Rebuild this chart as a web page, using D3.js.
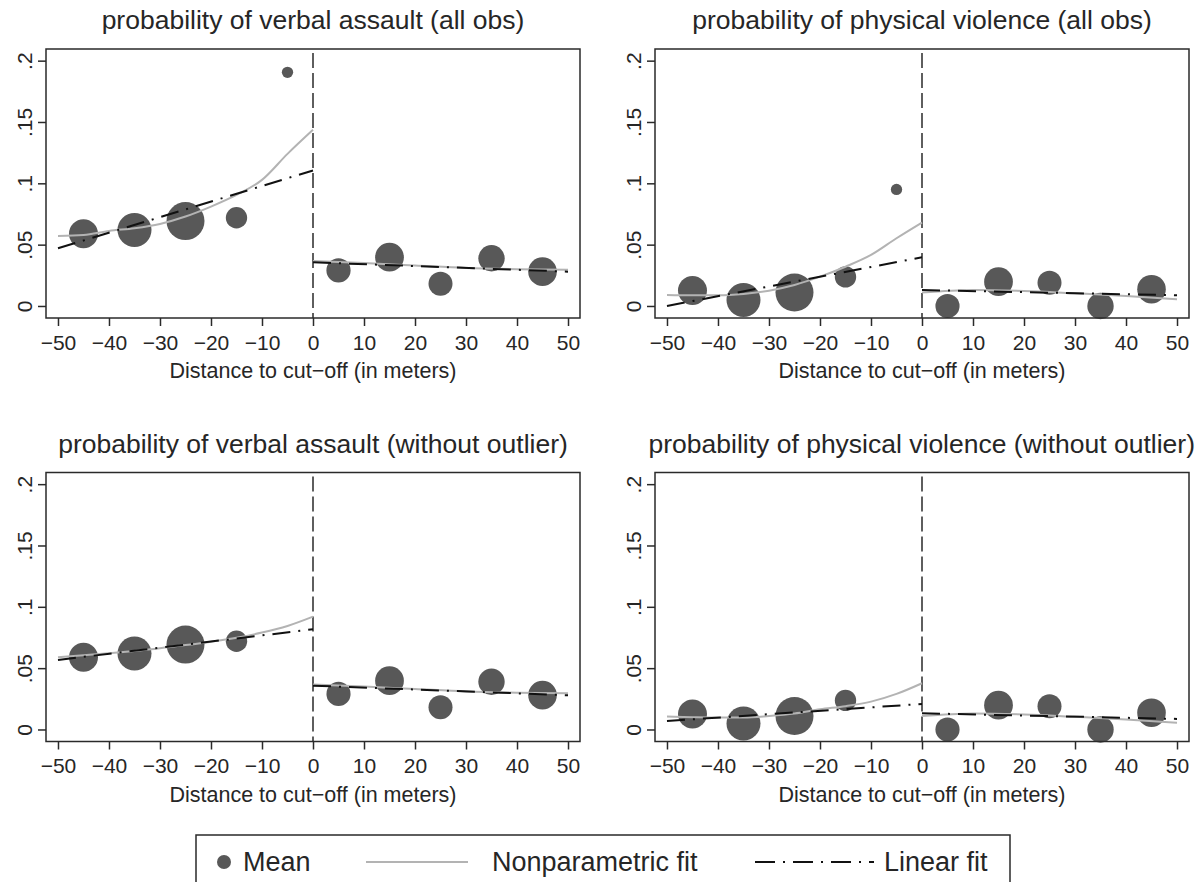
<!DOCTYPE html>
<html>
<head>
<meta charset="utf-8">
<script src="https://cdn.jsdelivr.net/npm/d3@7"></script>
<style>
  body { margin: 0; background: #fff; }
  svg text { font-family: "Liberation Sans", Arial, Helvetica, sans-serif; fill: #262626; }
</style>
</head>
<body>
<svg id="chart" width="1197" height="882"></svg>
<script>
// bins (distance to cut-off, meters) and observations per bin (drives marker size)
const binCenters = [-45, -35, -25, -15, -5, 5, 15, 25, 35, 45];
const binObs = [210, 289, 361, 114, 32, 146, 207, 144, 174, 204];
const outlierBin = -5;

const verbalMeans = [0.0589, 0.062, 0.0692, 0.0719, 0.1905, 0.029, 0.0398, 0.0181, 0.0389, 0.028];
const physicalMeans = [0.0126, 0.0049, 0.011, 0.0237, 0.095, 0.0, 0.0198, 0.019, 0.0, 0.0137];

// nonparametric fit
const npLeftX = [-50, -45, -40, -35, -30, -25, -20, -15, -10, -5, 0];
const npRightX = [0, 10, 20, 30, 40, 50];
const npVerbalAllLeft = [0.0571, 0.0579, 0.0612, 0.0634, 0.0669, 0.0729, 0.081, 0.0905, 0.1028, 0.124, 0.1436];
const npVerbalAllRight = [0.0367, 0.035, 0.033, 0.031, 0.030, 0.0295];
const npPhysicalAllLeft = [0.009, 0.0087, 0.0087, 0.0098, 0.0125, 0.0171, 0.0239, 0.032, 0.0416, 0.0552, 0.068];
const npPhysicalAllRight = [0.0109, 0.013, 0.0122, 0.0103, 0.0082, 0.0054];
const npVerbalNoOutLeft = [0.0589, 0.0605, 0.0621, 0.064, 0.0662, 0.0688, 0.0716, 0.0748, 0.079, 0.0844, 0.092];
const npVerbalNoOutRight = [0.0367, 0.035, 0.033, 0.031, 0.030, 0.0295];
const npPhysicalNoOutLeft = [0.0105, 0.01, 0.0097, 0.0097, 0.011, 0.013, 0.0164, 0.019, 0.0227, 0.029, 0.0377];
const npPhysicalNoOutRight = [0.0109, 0.013, 0.0122, 0.0103, 0.0082, 0.0054];

// linear fit values at the segment ends
const linLeftX = [-50, 0];
const linRightX = [0, 50];
const linVerbalAll = { left: [0.047, 0.1105], right: [0.0356, 0.028] };
const linPhysicalAll = { left: [0.0, 0.0397], right: [0.013, 0.0087] };
const linVerbalNoOut = { left: [0.0567, 0.0817], right: [0.0357, 0.0279] };
const linPhysicalNoOut = { left: [0.0069, 0.0208], right: [0.0132, 0.0086] };

const xTicks = [-50, -40, -30, -20, -10, 0, 10, 20, 30, 40, 50];
const yTicks = [0, 0.05, 0.1, 0.15, 0.2];

const titles = [
    'probability of verbal assault (all obs)',
    'probability of physical violence (all obs)',
    'probability of verbal assault (without outlier)',
    'probability of physical violence (without outlier)'
];
const xTitle = 'Distance to cut\u2212off (in meters)';
const legendLabels = ['Mean', 'Nonparametric fit', 'Linear fit'];

const panels = [
    { title: titles[0], means: verbalMeans, npL: npVerbalAllLeft, npR: npVerbalAllRight, lin: linVerbalAll, dropOutlier: false },
    { title: titles[1], means: physicalMeans, npL: npPhysicalAllLeft, npR: npPhysicalAllRight, lin: linPhysicalAll, dropOutlier: false },
    { title: titles[2], means: verbalMeans, npL: npVerbalNoOutLeft, npR: npVerbalNoOutRight, lin: linVerbalNoOut, dropOutlier: true },
    { title: titles[3], means: physicalMeans, npL: npPhysicalNoOutLeft, npR: npPhysicalNoOutRight, lin: linPhysicalNoOut, dropOutlier: true }
];

const svg = d3.select('#chart');
const pageW = 1197;

const plotW = 534;
const plotH = 269;
const origins = [[46, 49], [655, 49], [46, 472.5], [655, 472.5]];

const xScale = d3.scaleLinear().domain([-52.35, 52.35]).range([0, plotW]);
const yScale = d3.scaleLinear().domain([-0.0098, 0.2095]).range([plotH, 0]);
const rScale = d3.scaleSqrt().domain([0, d3.max(binObs)]).range([0, 19]);

const markerColor = '#585858';
const npColor = '#b3b3b3';
const linColor = '#111';
const linDash = '18,8,2,8';

const line = d3.line().x(d => xScale(d[0])).y(d => yScale(d[1]));
const smooth = d3.line().x(d => xScale(d[0])).y(d => yScale(d[1])).curve(d3.curveMonotoneX);

const fmtY = d => d === 0 ? '0' : d3.format('.2~f')(d).replace(/^0/, '');
const fmtX = d => d < 0 ? '\u2212' + Math.abs(d) : String(d);

panels.forEach((p, i) => {
    const [ox, oy] = origins[i];
    const g = svg.append('g').attr('transform', `translate(${ox},${oy})`);

    const title = g.append('text')
        .attr('x', plotW / 2)
        .attr('y', -20)
        .attr('text-anchor', 'middle')
        .style('font-size', '26.5px')
        .text(p.title);

    // keep the long title inside the page
    const tw = title.node().getComputedTextLength();
    const overflow = ox + plotW / 2 + tw / 2 - (pageW - 2);
    if (overflow > 0) title.attr('x', plotW / 2 - overflow);

    // markers
    const pts = binCenters.map((x, k) => ({ x: x, y: p.means[k], n: binObs[k] }))
        .filter(d => !(p.dropOutlier && d.x === outlierBin));

    g.append('g')
        .selectAll('circle')
        .data(pts)
        .enter()
        .append('circle')
        .attr('cx', d => xScale(d.x))
        .attr('cy', d => yScale(d.y))
        .attr('r', d => rScale(d.n))
        .attr('fill', markerColor);

    // cut-off line
    g.append('line')
        .attr('x1', xScale(0)).attr('x2', xScale(0))
        .attr('y1', 4).attr('y2', plotH)
        .attr('stroke', '#2a2a2a')
        .attr('stroke-width', 1.5)
        .attr('stroke-dasharray', '15,5');

    // nonparametric fit
    [[npLeftX, p.npL], [npRightX, p.npR]].forEach(([xs, ys]) => {
        g.append('path')
            .datum(xs.map((x, k) => [x, ys[k]]))
            .attr('d', smooth)
            .attr('fill', 'none')
            .attr('stroke', npColor)
            .attr('stroke-width', 2);
    });

    // linear fit
    [[linLeftX, p.lin.left], [linRightX, p.lin.right]].forEach(([xs, ys]) => {
        g.append('path')
            .datum(xs.map((x, k) => [x, ys[k]]))
            .attr('d', line)
            .attr('fill', 'none')
            .attr('stroke', linColor)
            .attr('stroke-width', 2)
            .attr('stroke-dasharray', linDash);
    });

    // axes
    const xAxis = g.append('g')
        .attr('transform', `translate(0,${plotH})`)
        .call(d3.axisBottom(xScale).tickValues(xTicks).tickSize(8).tickPadding(9).tickFormat(fmtX));
    xAxis.select('.domain').remove();
    xAxis.selectAll('line').attr('stroke', '#2a2a2a').attr('stroke-width', 1.5);
    xAxis.selectAll('text').style('font-size', '21px').attr('fill', '#262626');

    const yAxis = g.append('g')
        .call(d3.axisLeft(yScale).tickValues(yTicks).tickSize(8).tickFormat(fmtY));
    yAxis.select('.domain').remove();
    yAxis.selectAll('line').attr('stroke', '#2a2a2a').attr('stroke-width', 1.5);
    yAxis.selectAll('text')
        .attr('x', null).attr('dy', null)
        .attr('transform', 'translate(-22,0) rotate(-90)')
        .attr('text-anchor', 'middle')
        .attr('dominant-baseline', 'central')
        .style('font-size', '21px')
        .attr('fill', '#262626');

    g.append('text')
        .attr('x', plotW / 2)
        .attr('y', plotH + 60)
        .attr('text-anchor', 'middle')
        .style('font-size', '21.5px')
        .text(xTitle);

    g.append('rect')
        .attr('width', plotW)
        .attr('height', plotH)
        .attr('fill', 'none')
        .attr('stroke', '#2a2a2a')
        .attr('stroke-width', 1.5);
});

// legend
const legend = svg.append('g');
legend.append('rect')
    .attr('x', 196).attr('y', 835)
    .attr('width', 814).attr('height', 70)
    .attr('fill', '#fff')
    .attr('stroke', '#2a2a2a')
    .attr('stroke-width', 1.5);

const ly = 862;
legend.append('circle').attr('cx', 224).attr('cy', ly).attr('r', 7).attr('fill', markerColor);
legend.append('text').attr('x', 243).attr('y', ly + 9).style('font-size', '27px').text(legendLabels[0]);
legend.append('line').attr('x1', 366).attr('x2', 468).attr('y1', ly).attr('y2', ly)
    .attr('stroke', npColor).attr('stroke-width', 2);
legend.append('text').attr('x', 492).attr('y', ly + 9).style('font-size', '27px').text(legendLabels[1]);
legend.append('line').attr('x1', 755).attr('x2', 874).attr('y1', ly).attr('y2', ly)
    .attr('stroke', linColor).attr('stroke-width', 2).attr('stroke-dasharray', '20,8,2,8');
legend.append('text').attr('x', 884).attr('y', ly + 9).style('font-size', '27px').text(legendLabels[2]);
</script>
</body>
</html>
